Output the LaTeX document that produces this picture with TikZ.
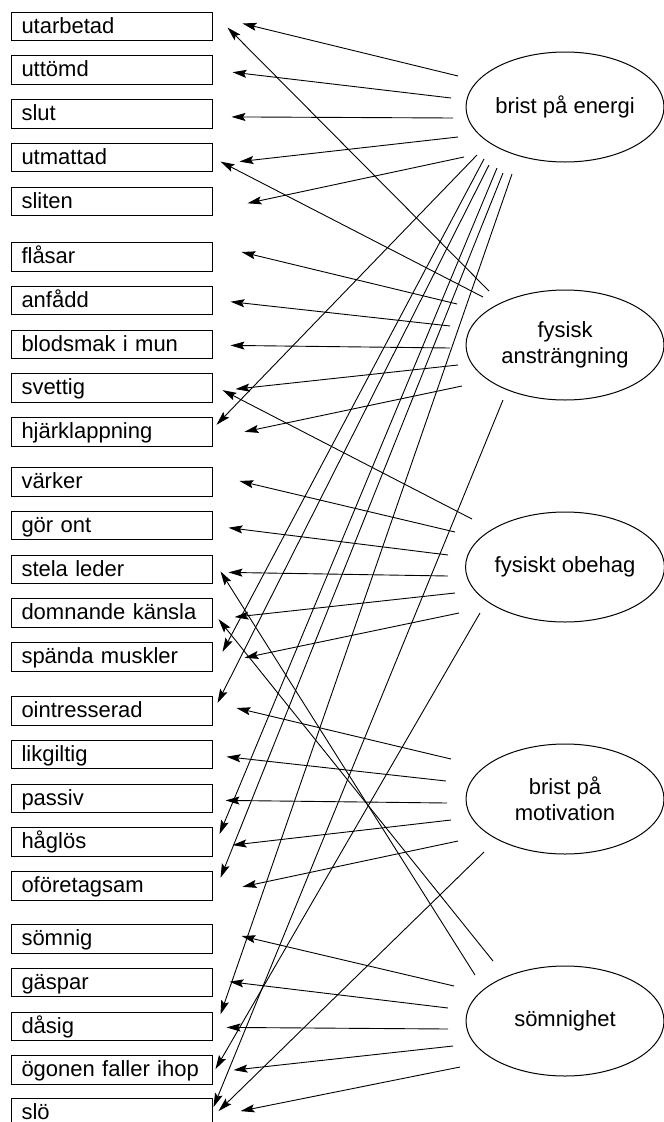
\documentclass[tikz,border=0pt]{standalone}
\usepackage{fontspec}
\setmainfont{Liberation Sans}
\usepackage{tikz}
\usetikzlibrary{shapes,arrows.meta,positioning,calc}
\tikzstyle{word} = [rectangle, draw, line width=1pt, minimum width=201pt, minimum height=28.5pt, text width=180pt, inner xsep=10.5pt, inner ysep=2pt, text height=14.5pt, text depth=1pt, align=left, font=\fontsize{22}{25}\selectfont]
\tikzstyle{cause} = [ellipse, draw, line width=1pt, minimum width=198pt, minimum height=110pt, inner sep=0pt, align=center, font=\fontsize{22}{26}\selectfont]
\tikzstyle{arrow} = [line width=0.9pt, -{Stealth[length=14pt,width=8pt,inset=2.5pt]}]

\begin{document}
\begin{tikzpicture}[x=1pt, y=-1pt, node distance=14.2pt]
    \useasboundingbox (0,0) rectangle (664,1122);
    % words
    \node[word] at (111.5,26.5) (utarbetad) {utarbetad};
    \node[word, below=of utarbetad] (uttomd) {uttömd};
    \node[word, below=of uttomd] (slut) {slut};
    \node[word, below=of slut] (utmattad) {utmattad};
    \node[word, below=of utmattad] (sliten) {sliten};
    \node[word] at (111.5,257) (flasar) {flåsar};
    \node[word, below=of flasar] (anfadd) {anfådd};
    \node[word, below=of anfadd] (blodsmak) {blodsmak i mun};
    \node[word, below=of blodsmak] (svettig) {svettig};
    \node[word, below=of svettig] (hjarklapp) {hjärklappning};
    \node[word] at (111.5,482) (varker) {värker};
    \node[word, below=of varker] (goront) {gör ont};
    \node[word, below=of goront] (stela) {stela leder};
    \node[word, below=of stela] (domnande) {domnande känsla};
    \node[word, below=of domnande] (spanda) {spända muskler};
    \node[word] at (111.5,711) (ointresserad) {ointresserad};
    \node[word, below=of ointresserad] (likgiltig) {likgiltig};
    \node[word, below=of likgiltig] (passiv) {passiv};
    \node[word, below=of passiv] (haglos) {håglös};
    \node[word, below=of haglos] (oforetagsam) {oföretagsam};
    \node[word] at (111.5,939) (somnig) {sömnig};
    \node[word, below=of somnig] (gaspar) {gäspar};
    \node[word, below=of gaspar] (dasig) {dåsig};
    \node[word, below=of dasig] (ogonen) {ögonen faller ihop};
    \node[word, below=13.5pt of ogonen] (slo) {slö};
    % causes
    \node[cause] at (565,107) (energi) {brist på energi};
    \node[cause] at (565,345) (anstr) {fysisk\\ansträngning};
    \node[cause] at (565,567) (obehag) {fysiskt obehag};
    \node[cause] at (565,799) (motiv) {brist på\\motivation};
    \node[cause] at (565,1021) (somn) {sömnighet};
    % brist på energi
    \draw[arrow] ($(energi)+(-107,-31)$) -- ($(utarbetad.east)+(30,-3)$);
    \draw[arrow] ($(energi)+(-114,-9)$) -- ($(uttomd.east)+(20,2)$);
    \draw[arrow] ($(energi)+(-112,11)$) -- ($(slut.east)+(19,3)$);
    \draw[arrow] ($(energi)+(-107,30)$) -- ($(utmattad.east)+(27,4)$);
    \draw[arrow] ($(energi)+(-101,50)$) -- ($(sliten.east)+(35,2)$);
    \draw[arrow] ($(energi)+(-88,48)$) -- ($(hjarklapp.east)+(4,-7)$);
    \draw[arrow] ($(energi)+(-81,52)$) -- ($(spanda.east)+(10,-5)$);
    \draw[arrow] ($(energi)+(-76,58)$) -- ($(ointresserad.east)+(5,-8)$);
    \draw[arrow] ($(energi)+(-68,61)$) -- ($(haglos.east)+(7,-8)$);
    \draw[arrow] ($(energi)+(-62,66)$) -- ($(oforetagsam.east)+(8,-8)$);
    \draw[arrow] ($(energi)+(-53,67)$) -- ($(dasig.east)+(8,-12)$);
    % fysisk ansträngning
    \draw[arrow] ($(anstr)+(-108,-41)$) -- ($(flasar.east)+(29,-5)$);
    \draw[arrow] ($(anstr)+(-115,-19)$) -- ($(anfadd.east)+(18,1)$);
    \draw[arrow] ($(anstr)+(-115,3)$) -- ($(blodsmak.east)+(18,1)$);
    \draw[arrow] ($(anstr)+(-107,20)$) -- ($(svettig.east)+(23,1)$);
    \draw[arrow] ($(anstr)+(-103,41)$) -- ($(hjarklapp.east)+(32,0)$);
    \draw[arrow] ($(anstr)+(-76,-54)$) -- ($(utarbetad.east)+(15,1)$);
    \draw[arrow] ($(anstr)+(-82,-48)$) -- ($(utmattad.east)+(8,4)$);
    \draw[arrow] ($(anstr)+(-62,55)$) -- ($(slo.east)+(1,-6)$);
    % fysiskt obehag
    \draw[arrow] ($(obehag)+(-110,-35)$) -- ($(varker.east)+(27,-1)$);
    \draw[arrow] ($(obehag)+(-117,-12)$) -- ($(goront.east)+(16,2)$);
    \draw[arrow] ($(obehag)+(-117,9)$) -- ($(stela.east)+(16,3)$);
    \draw[arrow] ($(obehag)+(-110,26)$) -- ($(domnande.east)+(22,4)$);
    \draw[arrow] ($(obehag)+(-106,46)$) -- ($(spanda.east)+(32,1)$);
    \draw[arrow] ($(obehag)+(-93,-48)$) -- ($(svettig.east)+(10,2)$);
    \draw[arrow] ($(obehag)+(-85,46)$) -- ($(ogonen.east)+(3,-1)$);
    % brist på motivation
    \draw[arrow] ($(motiv)+(-114,-40)$) -- ($(ointresserad.east)+(24,-3)$);
    \draw[arrow] ($(motiv)+(-119,-18)$) -- ($(likgiltig.east)+(14,2)$);
    \draw[arrow] ($(motiv)+(-118,4)$) -- ($(passiv.east)+(13,2)$);
    \draw[arrow] ($(motiv)+(-114,21)$) -- ($(haglos.east)+(20,3)$);
    \draw[arrow] ($(motiv)+(-107,42)$) -- ($(oforetagsam.east)+(30,1)$);
    \draw[arrow] ($(motiv)+(-81,53)$) -- ($(slo.east)+(6,-2)$);
    % sömnighet
    \draw[arrow] ($(somn)+(-111,-35)$) -- ($(somnig.east)+(29,-3)$);
    \draw[arrow] ($(somn)+(-117,-13)$) -- ($(gaspar.east)+(17,-1)$);
    \draw[arrow] ($(somn)+(-117,8)$) -- ($(dasig.east)+(14,1)$);
    \draw[arrow] ($(somn)+(-112,25)$) -- ($(ogonen.east)+(21,0)$);
    \draw[arrow] ($(somn)+(-105,46)$) -- ($(slo.east)+(28,-2)$);
    \draw[arrow] ($(somn)+(-90,-46)$) -- ($(stela.east)+(8,2)$);
    \draw[arrow] ($(somn)+(-72,-60)$) -- ($(domnande.east)+(6,6)$);
\end{tikzpicture}
\end{document}
